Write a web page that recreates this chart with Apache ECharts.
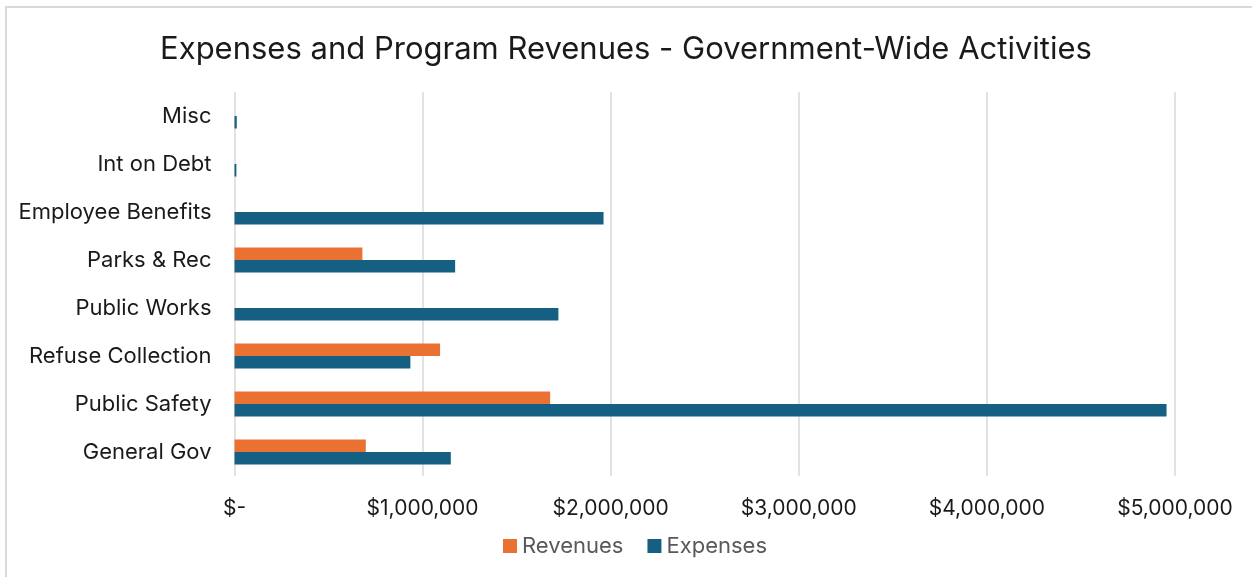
<!DOCTYPE html>
<html>
<head>
<meta charset="utf-8">
<style>
  html, body { margin: 0; padding: 0; background: #ffffff; }
  #chart { width: 1252px; height: 577px; }
</style>
<script src="https://cdn.jsdelivr.net/npm/echarts@6/dist/echarts.min.js"></script>
</head>
<body>
<div id="chart"></div>
<script>
// Functional categories, listed bottom to top along the category axis
const categories = ['General Gov', 'Public Safety', 'Refuse Collection', 'Public Works',
                    'Parks & Rec', 'Employee Benefits', 'Int on Debt', 'Misc'];
// Program revenues by function (dollars)
const revenues = [698000, 1678000, 1093000, 0, 680000, 0, 0, 0];
// Expenses by function (dollars)
const expenses = [1150000, 4955000, 935000, 1722000, 1173000, 1962000, 10000, 12000];
// Value axis ticks
const axisMin = 0;
const axisMax = 5000000;
const axisStep = 1000000;

const FONT = 'Inter, "Noto Sans", sans-serif';

function money(v) {
  if (v === 0) return '$-';
  return '$' + v.toLocaleString('en-US');
}

const chart = echarts.init(document.getElementById('chart'), null, { renderer: 'canvas' });
chart.setOption({
  backgroundColor: '#ffffff',
  animation: false,
  graphic: [{
    type: 'rect',
    silent: true,
    shape: { x: 6, y: 7, width: 1400, height: 800 },
    style: { fill: 'none', stroke: '#d9d9d9', lineWidth: 2 }
  }],
  title: {
    text: 'Expenses and Program Revenues - Government-Wide Activities',
    left: 'center',
    top: 29,
    textStyle: { fontFamily: FONT, fontWeight: 'normal', fontSize: 31, color: '#1a1a1a' }
  },
  legend: {
    data: ['Revenues', 'Expenses'],
    bottom: 15,
    left: 498,
    itemWidth: 14,
    itemHeight: 14,
    itemGap: 24,
    itemTextGap: 6,
    icon: 'rect',
    textStyle: { fontFamily: FONT, fontSize: 22, color: '#595959' }
  },
  grid: { left: 234.5, right: 77, top: 92, bottom: 101, containLabel: false },
  xAxis: {
    type: 'value',
    min: axisMin,
    max: axisMax,
    interval: axisStep,
    axisLine: { show: false },
    axisTick: { show: false },
    splitLine: { lineStyle: { color: '#d9d9d9', width: 1.5 } },
    axisLabel: { formatter: money, fontFamily: FONT, fontSize: 21, color: '#1a1a1a', margin: 22 }
  },
  yAxis: {
    type: 'category',
    data: categories,
    axisLine: { show: false },
    axisTick: { show: false },
    axisLabel: { fontFamily: FONT, fontSize: 22, color: '#1a1a1a', margin: 23 }
  },
  series: [
    {
      name: 'Revenues',
      type: 'bar',
      data: revenues,
      barWidth: 12.5,
      barGap: '0%',
      itemStyle: { color: '#E97132' }
    },
    {
      name: 'Expenses',
      type: 'bar',
      data: expenses,
      barWidth: 12.5,
      barGap: '0%',
      itemStyle: { color: '#156082' }
    }
  ]
});
</script>
</body>
</html>
